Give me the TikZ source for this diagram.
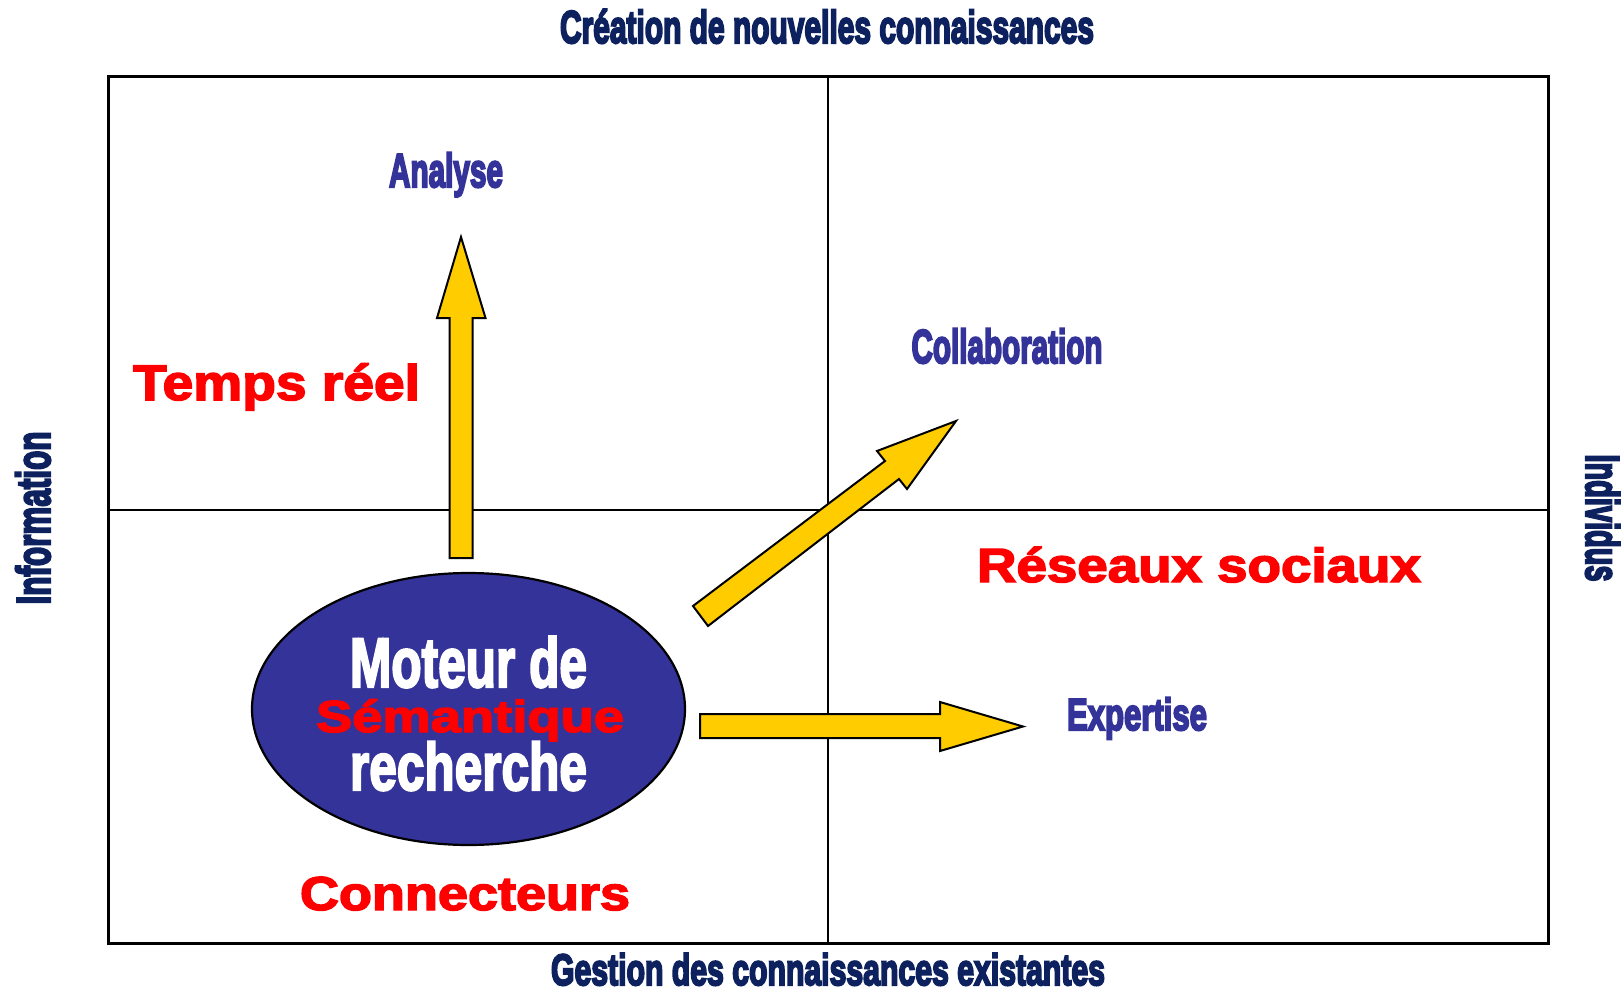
\documentclass[tikz,border=0pt]{standalone}
\usepackage{fontspec}
\usepackage{graphicx}
\usetikzlibrary{shapes.geometric}
\newfontfamily\heavyfont{Liberation Sans Bold}[FakeBold=5]
\newfontfamily\bigfont{Liberation Sans Bold}[FakeBold=3.5]
\newfontfamily\redfont{Liberation Sans Bold}[FakeBold=3]
\definecolor{navy}{HTML}{0C215E}
\definecolor{labelblue}{HTML}{333399}
\definecolor{ellblue}{HTML}{333399}
\definecolor{arrowyellow}{HTML}{FFCC00}
\definecolor{redtxt}{HTML}{FF0000}
\newlength\fitwlen
\newcommand\fitw[2]{%
  \settowidth\fitwlen{#2}%
  \pgfmathsetmacro\fitscale{#1/\fitwlen}%
  \scalebox{\fitscale}[1]{#2}}
\newcommand\hv[1]{\heavyfont\fontsize{#1pt}{#1pt}\selectfont}
\newcommand\bg[1]{\bigfont\fontsize{#1pt}{#1pt}\selectfont}
\newcommand\rd[1]{\redfont\fontsize{#1pt}{#1pt}\selectfont}
\tikzset{
  lbl/.style={inner sep=0pt, outer sep=0pt, anchor=base},
  framebox/.style={draw=black, line width=3pt},
  midline/.style={draw=black, line width=2.5pt},
  blockarrow/.style={fill=arrowyellow, draw=black, line width=2pt, line join=miter},
}
\begin{document}
\begin{tikzpicture}[x=1pt,y=-1pt]
\useasboundingbox (0,0) rectangle (1621,992);
\fill[white] (0,0) rectangle (1621,992);

% frame and quadrant lines
\draw[midline] (828,77) -- (828,943);
\draw[midline] (108,510) -- (1548,510);
\draw[framebox] (108,77) rectangle (1548,943);

% axis titles
\node[lbl, text=navy] (top) at (827,43)
  {\fitw{534}{\hv{46}Création de nouvelles connaissances}};
\node[lbl, text=navy] (bottom) at (828,985)
  {\fitw{554}{\hv{44}Gestion des connaissances existantes}};
\node[lbl, text=navy, rotate=90] (info) at (50,518)
  {\fitw{173}{\hv{47.5}Information}};
\node[lbl, text=navy, rotate=-90] (indiv) at (1586,518)
  {\fitw{127}{\hv{47.5}Individus}};

% ellipse
\node[ellipse, draw=black, line width=2.2pt, fill=ellblue,
      minimum width=433pt, minimum height=272pt, inner sep=0pt] (moteur) at (468.5,709) {};

% block arrows
\draw[blockarrow] (449.5,558) -- (449.5,318) -- (437,318) -- (461,237)
   -- (485.5,318) -- (472.5,318) -- (472.5,558) -- cycle;
\draw[blockarrow] (700,714) -- (940,714) -- (940,702) -- (1023,726.5)
   -- (940,751) -- (940,738) -- (700,738) -- cycle;
\draw[blockarrow] (693,606) -- (885,461) -- (877,451) -- (956,421)
   -- (907,489) -- (899,479) -- (708,626) -- cycle;

% text in ellipse
\node[lbl, text=white] (l1) at (468.5,687) {\fitw{237}{\bg{70}Moteur de}};
\node[lbl, text=white] (l3) at (468.5,790) {\fitw{237}{\bg{67}recherche}};
\node[lbl, text=redtxt] (l2) at (470,732) {\fitw{308}{\rd{44.7}Sémantique}};

% blue labels
\node[lbl, text=labelblue] (analyse) at (446,187) {\fitw{114}{\hv{47.5}Analyse}};
\node[lbl, text=labelblue] (collab) at (1007,363) {\fitw{191}{\hv{47.5}Collaboration}};
\node[lbl, text=labelblue] (expert) at (1137,730) {\fitw{140}{\hv{44.7}Expertise}};

% red labels
\node[lbl, text=redtxt] (temps) at (276.5,400) {\fitw{287}{\rd{50}Temps réel}};
\node[lbl, text=redtxt] (reseaux) at (1199,582) {\fitw{444}{\rd{48}Réseaux sociaux}};
\node[lbl, text=redtxt] (connect) at (465,910) {\fitw{330}{\rd{47.5}Connecteurs}};
\end{tikzpicture}
\end{document}
